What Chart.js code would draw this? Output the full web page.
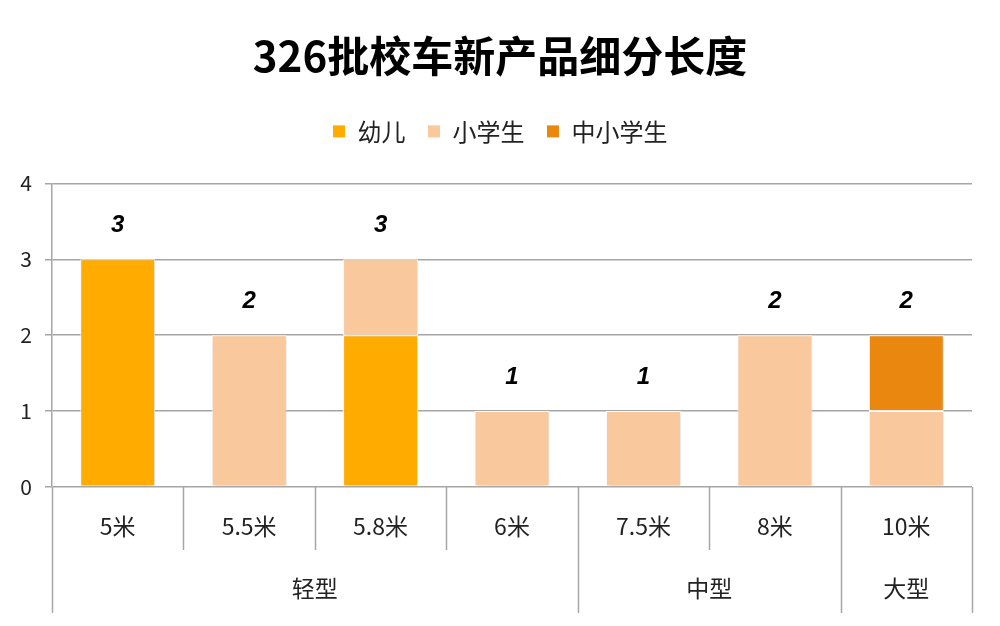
<!DOCTYPE html>
<html>
<head>
<meta charset="utf-8">
<script src="https://cdn.jsdelivr.net/npm/chart.js@4"></script>
<style>
  html, body { margin: 0; padding: 0; background: #fff; }
  #wrap { width: 1000px; height: 626px; }
</style>
</head>
<body>
<div id="wrap"><canvas id="lengthChart"></canvas></div>
<script>
// Daten
const lengths = ['5米', '5.5米', '5.8米', '6米', '7.5米', '8米', '10米'];
const groupNames = ['轻型', '中型', '大型'];
const groupSizes = [4, 2, 1];
const seriesNames = ['幼儿', '小学生', '中小学生'];
const kindergarten = [3, 0, 2, 0, 0, 0, 0];
const primary = [0, 2, 1, 1, 1, 2, 1];
const mixed = [0, 0, 0, 0, 0, 0, 1];
const yTicks = [0, 1, 2, 3, 4];

const FONT = '"Noto Sans CJK SC", "Noto Sans", sans-serif';

// Legende nach unten etwas Luft geben
const legendSpacer = {
    id: 'legendSpacer',
    beforeInit(chart) {
        const fit = chart.legend.fit;
        chart.legend.fit = function () {
            fit.call(this);
            this.height += 30;
        };
    }
};

// leichter Schatten an den Balken
const barShadow = {
    id: 'barShadow',
    beforeDatasetsDraw(chart) {
        const ctx = chart.ctx;
        ctx.save();
        ctx.shadowColor = 'rgba(0,0,0,0.18)';
        ctx.shadowBlur = 3;
        ctx.shadowOffsetX = 1;
        ctx.shadowOffsetY = 1;
    },
    afterDatasetsDraw(chart) {
        chart.ctx.restore();
    }
};

// Summen über den Balken
const totals = {
    id: 'totals',
    afterDatasetsDraw(chart) {
        const ctx = chart.ctx;
        const y = chart.scales.y;
        const x = chart.scales.x;
        ctx.save();
        ctx.font = 'italic bold 24px "Liberation Sans", Arial, sans-serif';
        ctx.fillStyle = '#000';
        ctx.textAlign = 'center';
        ctx.textBaseline = 'middle';
        lengths.forEach((_, i) => {
            const sum = kindergarten[i] + primary[i] + mixed[i];
            ctx.fillText(String(sum), x.getPixelForValue(i), y.getPixelForValue(sum) - 34);
        });
        ctx.restore();
    }
};

// zweistufige Kategorienachse
const groupAxis = {
    id: 'groupAxis',
    afterDraw(chart) {
        const ctx = chart.ctx;
        const x = chart.scales.x;
        const area = chart.chartArea;
        const step = x.getPixelForValue(1) - x.getPixelForValue(0);
        const edge = k => x.getPixelForValue(0) - step / 2 + k * step;
        const groupEdges = [0];
        groupSizes.forEach(n => groupEdges.push(groupEdges[groupEdges.length - 1] + n));

        ctx.save();
        ctx.strokeStyle = '#a6a6a6';
        ctx.lineWidth = 1.5;
        for (let k = 0; k <= lengths.length; k++) {
            const px = Math.round(edge(k)) + 0.5;
            const isGroup = groupEdges.includes(k);
            ctx.beginPath();
            ctx.moveTo(px, area.bottom);
            ctx.lineTo(px, isGroup ? area.bottom + 126 : area.bottom + 63);
            ctx.stroke();
        }
        ctx.font = '23px ' + FONT;
        ctx.fillStyle = '#222';
        ctx.textAlign = 'center';
        ctx.textBaseline = 'middle';
        groupNames.forEach((name, g) => {
            const mid = (edge(groupEdges[g]) + edge(groupEdges[g + 1])) / 2;
            ctx.fillText(name, mid, area.bottom + 101);
        });
        ctx.restore();
    }
};

new Chart(document.getElementById('lengthChart'), {
    type: 'bar',
    data: {
        labels: lengths,
        datasets: [
            { label: seriesNames[0], data: kindergarten, backgroundColor: '#ffab00' },
            { label: seriesNames[1], data: primary, backgroundColor: '#f9c89c' },
            { label: seriesNames[2], data: mixed, backgroundColor: '#ea870f' }
        ]
    },
    options: {
        responsive: true,
        maintainAspectRatio: false,
        animation: false,
        layout: { padding: 0 },
        datasets: {
            bar: {
                barPercentage: 0.57,
                categoryPercentage: 1,
                borderColor: '#ffffff',
                borderWidth: 1,
                borderSkipped: false
            }
        },
        plugins: {
            title: {
                display: true,
                text: '326批校车新产品细分长度',
                color: '#000',
                font: { family: FONT, size: 42, weight: 'bold' },
                padding: { top: 31, bottom: 16 }
            },
            legend: {
                position: 'top',
                labels: {
                    color: '#222',
                    font: { family: FONT, size: 24 },
                    boxWidth: 13,
                    boxHeight: 13,
                    padding: 22
                }
            },
            tooltip: { enabled: false }
        },
        scales: {
            x: {
                stacked: true,
                grid: { display: false, drawTicks: false },
                border: { display: false },
                ticks: {
                    color: '#222',
                    font: { family: FONT, size: 23 },
                    padding: 25,
                    maxRotation: 0
                },
                afterFit(scale) { scale.height = 139; }
            },
            y: {
                stacked: true,
                min: 0,
                max: 4,
                afterBuildTicks(scale) { scale.ticks = yTicks.map(v => ({ value: v })); },
                grid: { color: '#a6a6a6', lineWidth: 1.5, tickLength: 7 },
                border: { display: true, color: '#a6a6a6', width: 1.5 },
                ticks: {
                    color: '#222',
                    font: { family: FONT, size: 21 },
                    padding: 13
                },
                afterFit(scale) { scale.width = 52; }
            },
            // leerer Rand rechts, damit Titel und Legende mittig bleiben
            yRight: {
                position: 'right',
                display: true,
                grid: { display: false, drawTicks: false },
                border: { display: false },
                ticks: { display: false },
                afterFit(scale) { scale.width = 28; }
            }
        }
    },
    plugins: [legendSpacer, barShadow, totals, groupAxis]
});
</script>
</body>
</html>
